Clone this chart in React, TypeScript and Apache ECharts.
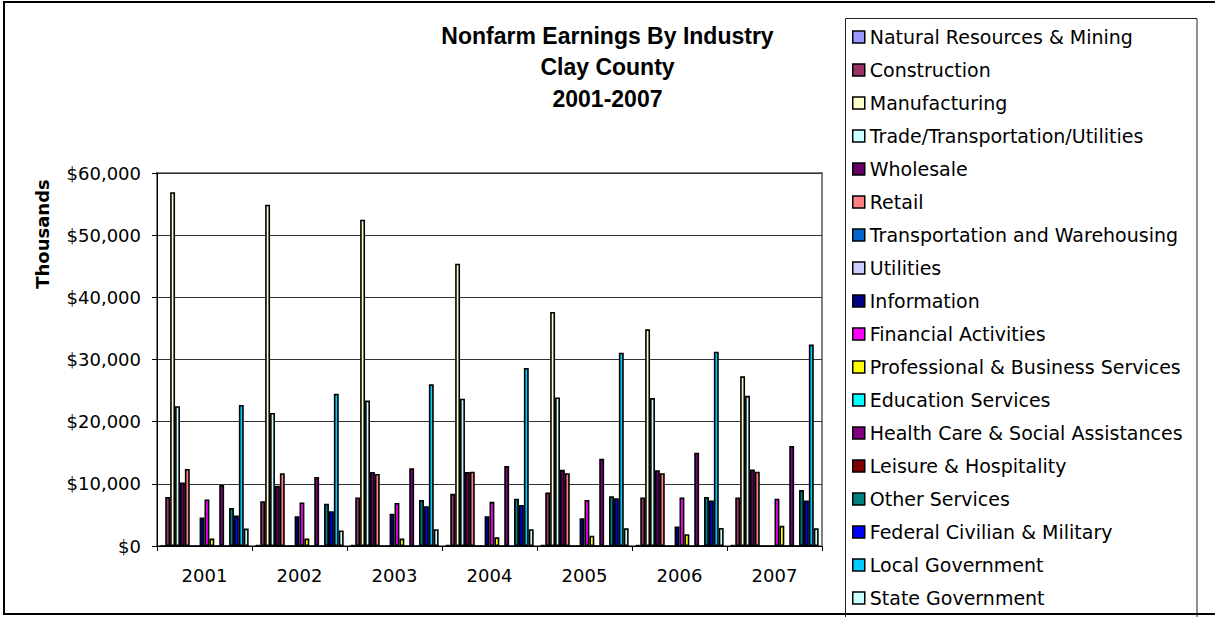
import React, { useEffect, useRef } from "react";
import * as echarts from "echarts";

const years = ["2001", "2002", "2003", "2004", "2005", "2006", "2007"];
const yTicks = [0, 10000, 20000, 30000, 40000, 50000, 60000];

const naturalResources = [0, 120, 120, 120, 120, 120, 120];
const construction = [7900, 7200, 7800, 8400, 8600, 7800, 7800];
const manufacturing = [56900, 54900, 52500, 45400, 37650, 34850, 27300];
const tradeTransUtil = [22500, 21400, 23400, 23700, 23900, 23800, 24150];
const wholesale = [10200, 9700, 11900, 11900, 12250, 12200, 12300];
const retail = [12400, 11700, 11600, 11950, 11700, 11700, 11950];
const transWarehousing = [0, 0, 0, 0, 0, 0, 0];
const utilities = [0, 0, 0, 0, 0, 0, 0];
const information = [4600, 4800, 5200, 4800, 4450, 3150, 0];
const financial = [7500, 7000, 6900, 7100, 7400, 7800, 7600];
const professional = [1200, 1200, 1200, 1400, 1650, 1900, 3250];
const education = [0, 0, 0, 0, 0, 0, 0];
const health = [9800, 11100, 12500, 12850, 14050, 15000, 16100];
const leisure = [0, 0, 0, 0, 0, 0, 0];
const otherServices = [6100, 6800, 7400, 7600, 8000, 7900, 9000];
const federal = [4900, 5600, 6400, 6600, 7700, 7300, 7300];
const localGov = [22700, 24500, 26000, 28650, 31100, 31250, 32400];
const stateGov = [2800, 2500, 2700, 2700, 2850, 2900, 2850];

const seriesNames = [
  "Natural Resources & Mining",
  "Construction",
  "Manufacturing",
  "Trade/Transportation/Utilities",
  "Wholesale",
  "Retail",
  "Transportation and Warehousing",
  "Utilities",
  "Information",
  "Financial Activities",
  "Professional & Business Services",
  "Education Services",
  "Health Care & Social Assistances",
  "Leisure & Hospitality",
  "Other Services",
  "Federal Civilian & Military",
  "Local Government",
  "State Government",
];
const seriesData = [
  naturalResources, construction, manufacturing, tradeTransUtil, wholesale, retail,
  transWarehousing, utilities, information, financial, professional, education,
  health, leisure, otherServices, federal, localGov, stateGov,
];
const seriesColors = [
  "#9999FF", "#993366", "#FFFFCC", "#CCFFFF", "#660066", "#FF8080",
  "#0066CC", "#CCCCFF", "#000080", "#FF00FF", "#FFFF00", "#00FFFF",
  "#800080", "#800000", "#008080", "#0000FF", "#00CCFF", "#CCFFFF",
];

const FONT = "DejaVu Sans";

export default function App() {
  const ref = useRef<HTMLDivElement>(null);
  useEffect(() => {
    if (!ref.current) return;
    const chart = echarts.init(ref.current, undefined, { renderer: "svg" });
    chart.setOption({
      animation: false,
      backgroundColor: "#fff",
      title: {
        text: "Nonfarm Earnings By Industry\nClay County\n2001-2007",
        left: "center",
        top: 20,
        padding: 0,
        textStyle: {
          fontFamily: "Liberation Sans",
          fontWeight: "bold",
          fontSize: 23,
          lineHeight: 31.5,
          color: "#000",
        },
      },
      legend: {
        orient: "vertical",
        left: 852,
        top: 27,
        itemWidth: 12,
        itemHeight: 12,
        itemGap: 13,
        icon: "rect",
        padding: 0,
        itemStyle: { borderColor: "#000", borderWidth: 1.5 },
        textStyle: { fontFamily: FONT, fontSize: 19, lineHeight: 20, color: "#000", padding: [0, 0, 0, 0] },
        data: seriesNames,
      },
      grid: {
        left: 157,
        right: 393,
        top: 173,
        bottom: 71,
        show: true,
        borderColor: "#808080",
        borderWidth: 2,
      },
      xAxis: {
        type: "category",
        data: years,
        axisLine: { show: true, lineStyle: { color: "#000", width: 1 } },
        axisTick: { show: true, length: 5, lineStyle: { color: "#000" } },
        axisLabel: { fontFamily: FONT, fontSize: 18, color: "#000", margin: 20 },
        splitLine: { show: false },
      },
      yAxis: {
        type: "value",
        min: 0,
        max: 60000,
        interval: 10000,
        axisLine: { show: true, lineStyle: { color: "#000", width: 1 } },
        axisTick: { show: true, length: 5, lineStyle: { color: "#000" } },
        axisLabel: {
          fontFamily: FONT,
          fontSize: 18,
          color: "#000",
          margin: 16,
          formatter: (v: number) => (yTicks.includes(v) ? "$" + v.toLocaleString("en-US") : ""),
        },
        splitLine: { show: true, lineStyle: { color: "#333", width: 1 } },
      },
      graphic: [
        {
          type: "rect",
          shape: { x: 4, y: 2, width: 1230, height: 612 },
          style: { fill: "none", stroke: "#000", lineWidth: 2 },
          silent: true,
          z: 100,
        },
        {
          type: "rect",
          shape: { x: 845.5, y: 18.5, width: 351.5, height: 620 },
          style: { fill: "none", stroke: "#222", lineWidth: 1 },
          silent: true,
          z: 100,
        },
        {
          type: "text",
          x: 42,
          y: 234,
          rotation: Math.PI / 2,
          style: {
            text: "Thousands",
            fontFamily: FONT,
            fontWeight: "bold",
            fontSize: 18,
            fill: "#000",
            align: "center",
            verticalAlign: "middle",
          },
        },
      ],
      series: seriesNames.map((name, i) => ({
        name,
        type: "bar",
        data: seriesData[i],
        barGap: "0%",
        barCategoryGap: "7%",
        itemStyle: { color: seriesColors[i], borderColor: "#000", borderWidth: 1.6 },
      })),
    });
    return () => chart.dispose();
  }, []);
  return (
    <div
      ref={ref}
      style={{ position: "fixed", left: 0, top: 0, width: 1215, height: 617 }}
    />
  );
}
